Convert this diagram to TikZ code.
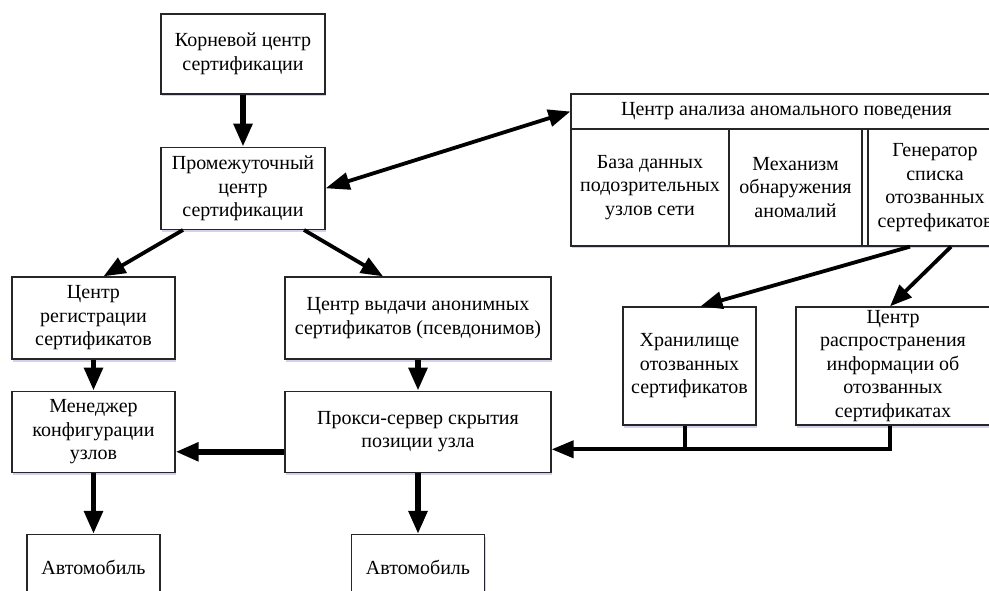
\documentclass[tikz,border=0pt]{standalone}
\usepackage{fontspec}
\setmainfont{Liberation Serif}
\usetikzlibrary{positioning}
\usetikzlibrary{arrows.meta}
\usetikzlibrary{shadows}
\tikzset{
        boxnode/.style={align=center, inner sep=1pt, font=\fontsize{20}{23.5}\selectfont},
        % Ordinary blocks
        node_block/.style={boxnode, rectangle, draw=black!85, line width=1.3pt, fill=white,
                drop shadow={shadow xshift=1pt, shadow yshift=-2.5pt, fill=blue!40!gray, opacity=0.25}},
        % Cells of the anomaly centre
        node_cell/.style={boxnode, rectangle, draw=black!85, line width=1.3pt, fill=white},
        % Cars
        node_car/.style={node_block, minimum width=133pt, minimum height=66pt},
        % Heavy straight arrows
        edge_bold/.style={line width=5.5pt, -{Triangle[length=23pt,width=18pt]}},
        % Slanted arrows
        edge_plain/.style={line width=3.8pt, -{Triangle[length=22pt,width=17pt]}}
}
\begin{document}
\begin{tikzpicture}[x=1pt, y=-1pt]
            \useasboundingbox (0,0) rectangle (989,591);
            \clip (0,0) rectangle (989,591);
            % left part
            \node[node_block, minimum width=164pt, minimum height=80pt] (root) at (243,54)
                {Корневой центр\\сертификации};
            \node[node_block, minimum width=164pt, minimum height=82pt, below=52pt of root] (inter)
                {Промежуточный\\центр\\сертификации};
            \node[node_block, minimum width=163pt, minimum height=82pt] (reg) at (93.5,318)
                {Центр\\регистрации\\сертификатов};
            \node[node_block, minimum width=266pt, minimum height=82pt] (anon) at (418,318)
                {Центр выдачи анонимных\\сертификатов (псевдонимов)};
            \node[node_block, minimum width=163pt, minimum height=81pt, below=31pt of reg] (mgr)
                {Менеджер\\конфигурации\\узлов};
            \node[node_block, minimum width=266pt, minimum height=81pt, below=31pt of anon] (proxy)
                {Прокси-сервер скрытия\\позиции узла};
            \node[node_car, below=61pt of mgr] (car_left) {Автомобиль};
            \node[node_car, below=61pt of proxy] (car_right) {Автомобиль};
            % right part
            \node[node_block, minimum width=431pt, minimum height=152pt] (anomaly) at (786.5,170) {};
            \node[node_cell, minimum width=431pt, minimum height=35pt] (anomaly_head) at (786.5,111.5)
                {Центр анализа аномального поведения};
            \node[node_cell, minimum width=158pt, minimum height=117pt] (db) at (650,187.5)
                {База данных\\подозрительных\\узлов сети};
            \node[node_cell, minimum width=133pt, minimum height=117pt] (mech) at (795.5,187.5)
                {Механизм\\обнаружения\\аномалий};
            \node[node_cell, minimum width=134pt, minimum height=117pt] (gen) at (935,187.5)
                {Генератор\\списка\\отозванных\\сертефикатов};
            \node[node_block, minimum width=133pt, minimum height=118pt] (store) at (689.5,366)
                {Хранилище\\отозванных\\сертификатов};
            \node[node_block, minimum width=194pt, minimum height=118pt] (dis) at (893,366)
                {Центр\\распространения\\информации об\\отозванных\\сертификатах};
            % arrows
            \draw[edge_bold] (root) -- (inter);
            \draw[edge_plain] ([xshift=-60pt]inter.south) -- ([xshift=10pt]reg.north);
            \draw[edge_plain] ([xshift=61pt]inter.south) -- ([xshift=-35pt]anon.north);
            \draw[edge_plain, {Triangle[length=24pt,width=17pt]}-{Triangle[length=22pt,width=17pt]}]
                (inter.east) -- (anomaly_head.west);
            \draw[edge_bold] (reg) -- (mgr);
            \draw[edge_bold] (anon) -- (proxy);
            \draw[edge_bold] (mgr) -- (car_left);
            \draw[edge_bold] (proxy) -- (car_right);
            \draw[edge_bold] ([yshift=-20pt]proxy.west) -- ([yshift=-20pt]mgr.east);
            \draw[edge_plain] ([xshift=-25pt]gen.south) -- ([xshift=11pt]store.north);
            \draw[edge_plain] ([xshift=16pt]gen.south) -- ([xshift=-3pt]dis.north);
            \draw[line width=4pt, -{Triangle[length=22pt,width=17pt]}]
                ([xshift=-3pt]dis.south) |- coordinate (bus) ([yshift=-17.5pt]proxy.east);
            \draw[line width=4pt] ([xshift=-5pt]store.south) -- ([xshift=-5pt]store.south |- bus);
\end{tikzpicture}
\end{document}
